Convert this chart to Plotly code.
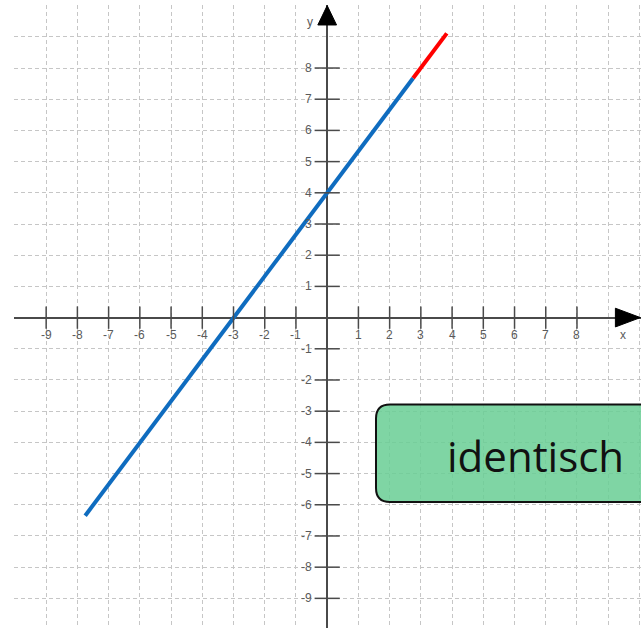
import plotly.graph_objects as go

# ---- data ----
x_ticks = [-9, -8, -7, -6, -5, -4, -3, -2, -1, 1, 2, 3, 4, 5, 6, 7, 8]
y_ticks = [-9, -8, -7, -6, -5, -4, -3, -2, -1, 1, 2, 3, 4, 5, 6, 7, 8]
blue_x = [-7.75, 2.75]
blue_y = [-6.35, 7.67]
red_x = [2.75, 3.83]
red_y = [7.67, 9.11]
box_text = "identisch"

# ---- layout geometry ----
W, H = 641, 628
ML, MT, MR, MB = 14, 5, 0, 0
XR = [-10.03, 10.05]
YR = [-9.95, 10.02]
PW, PH = W - ML - MR, H - MT - MB


def px2paper(px, py):
    return (px - ML) / PW, 1 - (py - MT) / PH


AX = "#4a4a4a"
LBL = "#5a5a5a"

fig = go.Figure()

# red line (drawn first), blue on top
fig.add_trace(go.Scatter(x=red_x, y=red_y, mode="lines",
                         line=dict(color="#ff0000", width=4), hoverinfo="skip"))
fig.add_trace(go.Scatter(x=blue_x, y=blue_y, mode="lines",
                         line=dict(color="#0f6cbf", width=4), hoverinfo="skip"))

# tick marks crossing the axes
fig.add_trace(go.Scatter(x=x_ticks, y=[0] * len(x_ticks), mode="markers",
                         marker=dict(symbol="line-ns-open", size=16, color=AX,
                                     line=dict(color=AX, width=1.5)),
                         hoverinfo="skip"))
fig.add_trace(go.Scatter(x=[0] * len(y_ticks), y=y_ticks, mode="markers",
                         marker=dict(symbol="line-ew-open", size=18, color=AX,
                                     line=dict(color=AX, width=1.5)),
                         hoverinfo="skip"))

TF = dict(family="Liberation Sans", size=12, color=LBL)
annotations = []
for t in x_ticks:
    annotations.append(dict(x=t, y=0, xref="x", yref="y", text=str(t),
                            showarrow=False, yshift=-17, font=TF))
for t in y_ticks:
    annotations.append(dict(x=0, y=t, xref="x", yref="y", text=str(t),
                            showarrow=False, xanchor="right", xshift=-13, font=TF))
annotations.append(dict(x=9.47, y=0, xref="x", yref="y", text="x", showarrow=False,
                        yshift=-17, font=TF))
annotations.append(dict(x=0, y=9.48, xref="x", yref="y", text="y", showarrow=False,
                        xanchor="right", xshift=-12, font=TF))

# text box
tx, ty = px2paper(535, 455)
annotations.append(dict(x=tx, y=ty, xref="paper", yref="paper", text=box_text,
                        showarrow=False, xanchor="center", yanchor="middle",
                        font=dict(family="Open Sans", size=42, color="#111111")))

shapes = []
# arrows
shapes.append(dict(type="path", xref="x", yref="y",
                   path="M 9.23,0.3 L 10.03,0 L 9.23,-0.3 Z",
                   fillcolor="#000000", line=dict(color="#000000", width=1)))
shapes.append(dict(type="path", xref="x", yref="y",
                   path="M -0.3,9.38 L 0,10.0 L 0.3,9.38 Z",
                   fillcolor="#000000", line=dict(color="#000000", width=1)))

# rounded box (pixel based -> paper)
L, T, R, B, r = 376, 404.5, 680, 502, 14


def P(px, py):
    a, b = px2paper(px, py)
    return f"{a:.5f},{b:.5f}"


path = (f"M {P(L + r, T)} L {P(R - r, T)} Q {P(R, T)} {P(R, T + r)} "
        f"L {P(R, B - r)} Q {P(R, B)} {P(R - r, B)} "
        f"L {P(L + r, B)} Q {P(L, B)} {P(L, B - r)} "
        f"L {P(L, T + r)} Q {P(L, T)} {P(L + r, T)} Z")
shapes.append(dict(type="path", xref="paper", yref="paper", path=path,
                   fillcolor="rgba(104,206,148,0.85)",
                   line=dict(color="#111111", width=2), layer="above"))

fig.update_layout(
    width=W, height=H,
    margin=dict(l=ML, r=MR, t=MT, b=MB, pad=0),
    paper_bgcolor="white", plot_bgcolor="white",
    showlegend=False,
    annotations=annotations,
    shapes=shapes,
    xaxis=dict(range=XR, dtick=1, tick0=0, showgrid=True, gridcolor="#c6c6c6",
               griddash="4px,3px", gridwidth=1, zeroline=True,
               zerolinecolor=AX, zerolinewidth=1.5, showticklabels=False,
               ticks="", showline=False, fixedrange=True),
    yaxis=dict(range=YR, dtick=1, tick0=0, showgrid=True, gridcolor="#c6c6c6",
               griddash="4px,3px", gridwidth=1, zeroline=True,
               zerolinecolor=AX, zerolinewidth=1.5, showticklabels=False,
               ticks="", showline=False, fixedrange=True),
)

fig.write_html("out.html", config={"displayModeBar": False},
               post_script="document.body.style.margin='0px';")
